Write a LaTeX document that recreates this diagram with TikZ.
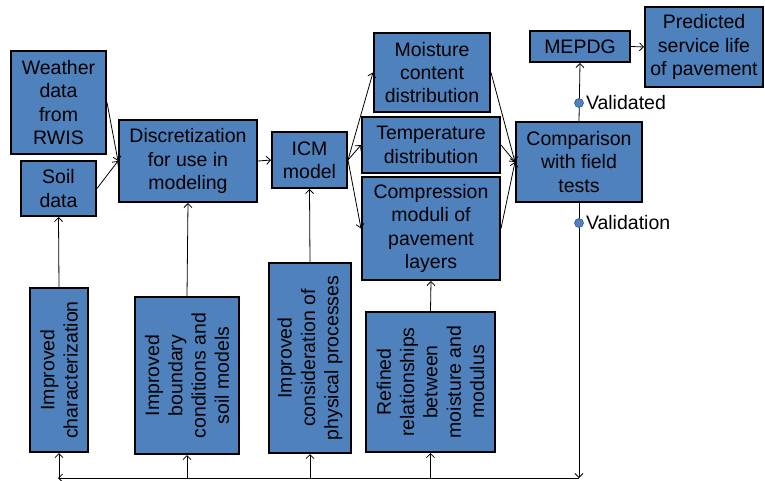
\documentclass[tikz,border=0pt]{standalone}
\usepackage{fontspec}
\setmainfont{Liberation Sans}
\usepackage{xcolor}
\usetikzlibrary{arrows.meta,calc}
\definecolor{boxblue}{HTML}{4F81BD}
\definecolor{dotedge}{HTML}{385D8A}
\tikzset{
  flow/.style={-{Straight Barb[length=4pt,width=8pt]},line width=0.8pt,draw=black},
  stage/.style={draw=black,fill=boxblue,line width=2pt,align=center,inner sep=0pt,
    font=\fontsize{19.5}{23.3}\selectfont},
  upright/.style={stage,rotate=90},
  marker/.style={circle,fill=boxblue,draw=dotedge,line width=0.6pt,inner sep=0pt,minimum size=9pt},
  note/.style={font=\fontsize{19.5}{23.3}\selectfont,inner sep=2pt,anchor=west}
}

\begin{document}
\begin{tikzpicture}[x=1pt,y=-1pt]
  \useasboundingbox (0,0) rectangle (765,480);

  \node[stage,minimum width=95,minimum height=103] (weather) at (58.5,102.5) {Weather\\data\\from\\RWIS};
  \node[stage,minimum width=75,minimum height=55] (soil) at (58.5,188.5) {Soil\\data};
  \node[stage,minimum width=138,minimum height=82] (disc) at (188,161) {Discretization\\for use in\\modeling};
  \node[stage,minimum width=75,minimum height=56] (icm) at (309.5,160) {ICM\\model};
  \node[stage,minimum width=116,minimum height=79] (moist) at (432,72.5) {Moisture\\content\\distribution};
  \node[stage,minimum width=138,minimum height=56] (temp) at (431,145) {Temperature\\distribution};
  \node[stage,minimum width=138,minimum height=103] (modul) at (431,228.5) {Compression\\moduli of\\pavement\\layers};
  \node[stage,minimum width=126,minimum height=80] (compare) at (579,162) {Comparison\\with field\\tests};
  \node[stage,minimum width=100,minimum height=31] (mepdg) at (580,46.5) {MEPDG};
  \node[stage,minimum width=118,minimum height=80] (service) at (704,47) {Predicted\\service life\\of pavement};

  % rotated boxes: .east is the top, .west the bottom
  \node[upright,minimum width=164,minimum height=58] (charact) at (59,370) {Improved\\characterization};
  \node[upright,minimum width=157,minimum height=104] (bound) at (187,375.5) {Improved\\boundary\\conditions and\\soil models};
  \node[upright,minimum width=190,minimum height=82] (physics) at (310,358) {Improved\\consideration of\\physical processes};
  \node[upright,minimum width=140,minimum height=129] (refined) at (430.5,382) {Refined\\relationships\\between\\moisture and\\modulus};

  \draw[flow] (weather.east) -- (disc.west);
  \draw[flow] (soil.east) -- (disc.west);
  \draw[flow] (disc.east) -- (icm.west);
  \draw[flow] (icm.east) -- (moist.west);
  \draw[flow] (icm.east) -- (temp.west);
  \draw[flow] (icm.east) -- (modul.west);
  \draw[flow] (moist.east) -- (compare.west);
  \draw[flow] (temp.east) -- (compare.west);
  \draw[flow] (modul.east) -- (compare.west);
  \draw[flow] (compare.north) -- (mepdg.south);
  \draw[flow] (mepdg.east) -- (service.west);

  \draw[flow] (charact.east) -- (soil.south);
  \draw[flow] (bound.east) -- (disc.south);
  \draw[flow] (physics.east) -- (icm.south);
  \draw[flow] (refined.east) -- (modul.south);

  \coordinate (fb) at (579,478);
  \coordinate (fbend) at (58,478);
  \draw[flow] (compare.south) -- (fb);
  \draw[flow] (fb) -- (fbend);
  \foreach \b in {charact,bound,physics,refined}
    \draw[flow] (\b.west |- fb) -- (\b.west);

  \node[marker] (okdot) at (579,103) {};
  \node[note] at (okdot.east) {Validated};
  \node[marker] (valdot) at (579,223) {};
  \node[note] at (valdot.east) {Validation};
\end{tikzpicture}
\end{document}
